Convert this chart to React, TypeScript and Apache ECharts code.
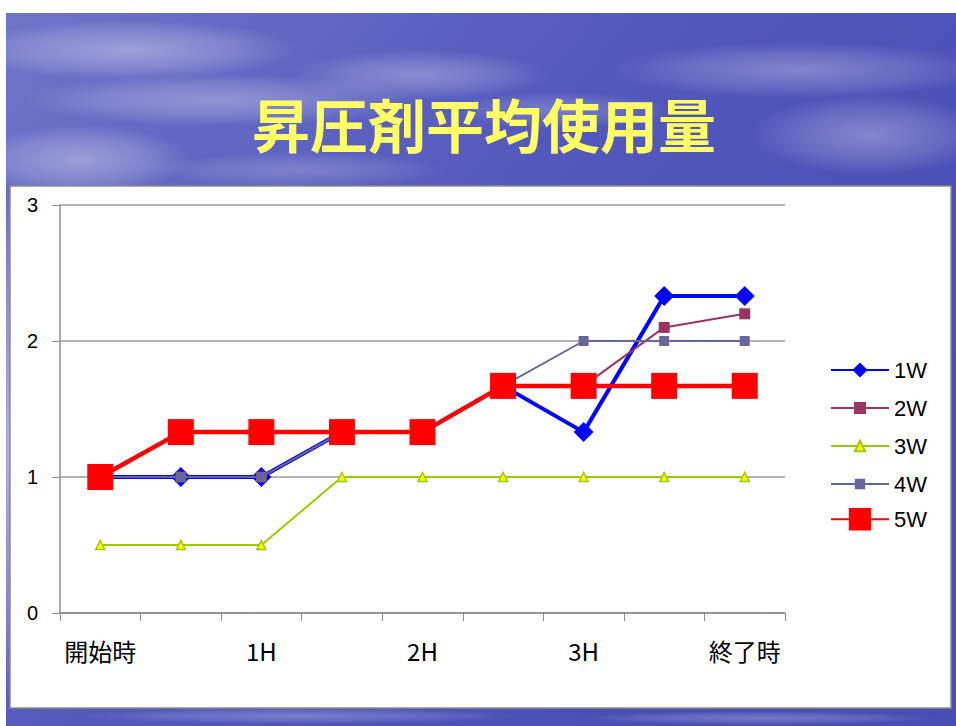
import React, { useEffect, useRef } from 'react';
import * as echarts from 'echarts';

const titleText = '昇圧剤平均使用量';
const categories = ['開始時', '', '1H', '', '2H', '', '3H', '', '終了時'];
const seriesNames = ['1W', '2W', '3W', '4W', '5W'];
const w1 = [1, 1, 1, 1.33, 1.33, 1.67, 1.33, 2.33, 2.33];
const w2 = [1, 1, 1, 1.33, 1.33, 1.67, 1.67, 2.1, 2.2];
const w3 = [0.5, 0.5, 0.5, 1, 1, 1, 1, 1, 1];
const w4 = [1, 1, 1, 1.33, 1.33, 1.67, 2, 2, 2];
const w5 = [1, 1.33, 1.33, 1.33, 1.33, 1.67, 1.67, 1.67, 1.67];
const yMin = 0;
const yMax = 3;
const yStep = 1;

export default function App() {
  const ref = useRef<HTMLDivElement>(null);
  useEffect(() => {
    if (!ref.current) return;
    const chart = echarts.init(ref.current, null, { renderer: 'svg' });
    const cloud = (cx: number, cy: number, rx: number, ry: number, op: number) => ({
      type: 'ellipse',
      shape: { cx, cy, rx, ry },
      style: {
        fill: new echarts.graphic.RadialGradient(0.5, 0.5, 0.5, [
          { offset: 0, color: `rgba(255,255,255,${op})` },
          { offset: 0.6, color: `rgba(255,255,255,${op * 0.5})` },
          { offset: 1, color: 'rgba(255,255,255,0)' },
        ]),
      },
      silent: true,
      z: -9,
    });
    const legendSpec = [
      { name: '1W', h: 19, c: 370 },
      { name: '2W', h: 15, c: 408 },
      { name: '3W', h: 13, c: 446 },
      { name: '4W', h: 13, c: 484 },
      { name: '5W', h: 28, c: 522 },
    ];
    chart.setOption({
      animation: false,
      backgroundColor: '#ffffff',
      textStyle: { fontFamily: 'Noto Sans CJK JP' },
      graphic: {
        elements: [
          {
            type: 'rect',
            shape: { x: 6, y: 13, width: 950, height: 713 },
            style: {
              fill: new echarts.graphic.LinearGradient(0, 0, 1, 0.6, [
                { offset: 0, color: '#6e75c8' },
                { offset: 0.5, color: '#5358bc' },
                { offset: 1, color: '#474db3' },
              ]),
            },
            silent: true,
            z: -10,
          },
          cloud(130, 50, 170, 30, 0.35),
          cloud(220, 100, 200, 26, 0.3),
          cloud(420, 75, 130, 25, 0.28),
          cloud(560, 110, 110, 18, 0.22),
          cloud(800, 70, 190, 28, 0.28),
          cloud(870, 135, 120, 40, 0.3),
          cloud(80, 160, 110, 35, 0.35),
          cloud(300, 170, 150, 18, 0.2),
          cloud(8, 450, 8, 260, 0.5),
          cloud(300, 716, 220, 8, 0.25),
          cloud(760, 718, 180, 7, 0.25),
          {
            type: 'rect',
            shape: { x: 10, y: 186, width: 941, height: 522 },
            style: { fill: '#ffffff', stroke: '#8c8c8c', lineWidth: 1.5 },
            silent: true,
            z: -8,
          },
          {
            type: 'text',
            x: 484,
            y: 123,
            style: {
              text: titleText,
              fill: '#ffff66',
              font: 'bold 58px "Noto Sans CJK JP"',
              align: 'center',
              verticalAlign: 'middle',
            },
            z: 5,
          },
        ],
      },
      grid: { left: 60, right: 171, top: 205, bottom: 113, containLabel: false },
      legend: legendSpec.map((l) => ({
        data: [l.name],
        left: 830,
        top: l.c - Math.max(l.h, 22) / 2,
        padding: 0,
        itemWidth: 58,
        itemHeight: l.h,
        selectedMode: false,
        textStyle: { fontSize: 22, fontFamily: 'Liberation Sans', color: '#000' },
      })),
      xAxis: {
        type: 'category',
        data: categories,
        boundaryGap: true,
        axisLine: { lineStyle: { color: '#8c8c8c', width: 1.5 } },
        axisTick: { show: true, interval: 0, length: 8, lineStyle: { color: '#8c8c8c' } },
        axisLabel: {
          interval: 0,
          margin: 25,
          fontSize: 24,
          color: '#000',
          fontFamily: 'Noto Sans CJK JP',
        },
        splitLine: { show: false },
      },
      yAxis: {
        type: 'value',
        min: yMin,
        max: yMax,
        interval: yStep,
        axisLine: { show: true, lineStyle: { color: '#8c8c8c', width: 1.5 } },
        axisTick: { show: true, length: 8, lineStyle: { color: '#8c8c8c' } },
        axisLabel: { margin: 22, fontSize: 20, color: '#000', fontFamily: 'Liberation Sans' },
        splitLine: { show: true, lineStyle: { color: '#9a9a9a', width: 1.5 } },
      },
      series: [
        {
          name: seriesNames[0],
          type: 'line',
          data: w1,
          symbol: 'diamond',
          symbolSize: 20,
          lineStyle: { color: '#0000ff', width: 4 },
          itemStyle: { color: '#0000ff' },
          z: 2,
        },
        {
          name: seriesNames[1],
          type: 'line',
          data: w2,
          symbol: 'rect',
          symbolSize: 11,
          lineStyle: { color: '#993366', width: 2 },
          itemStyle: { color: '#993366' },
          z: 3,
        },
        {
          name: seriesNames[2],
          type: 'line',
          data: w3,
          symbol: 'triangle',
          symbolSize: 9,
          lineStyle: { color: '#99cc00', width: 2 },
          itemStyle: { color: '#ffff00', borderColor: '#99cc00', borderWidth: 1.5 },
          z: 4,
        },
        {
          name: seriesNames[3],
          type: 'line',
          data: w4,
          symbol: 'rect',
          symbolSize: 10,
          lineStyle: { color: '#666699', width: 2 },
          itemStyle: { color: '#666699' },
          z: 5,
        },
        {
          name: seriesNames[4],
          type: 'line',
          data: w5,
          symbol: 'rect',
          symbolSize: 26,
          lineStyle: { color: '#ff0000', width: 4.5 },
          itemStyle: { color: '#ff0000' },
          z: 6,
        },
      ],
    });
    return () => chart.dispose();
  }, []);
  return (
    <div
      ref={ref}
      style={{ position: 'absolute', left: 0, top: 0, width: 956, height: 726 }}
    />
  );
}
